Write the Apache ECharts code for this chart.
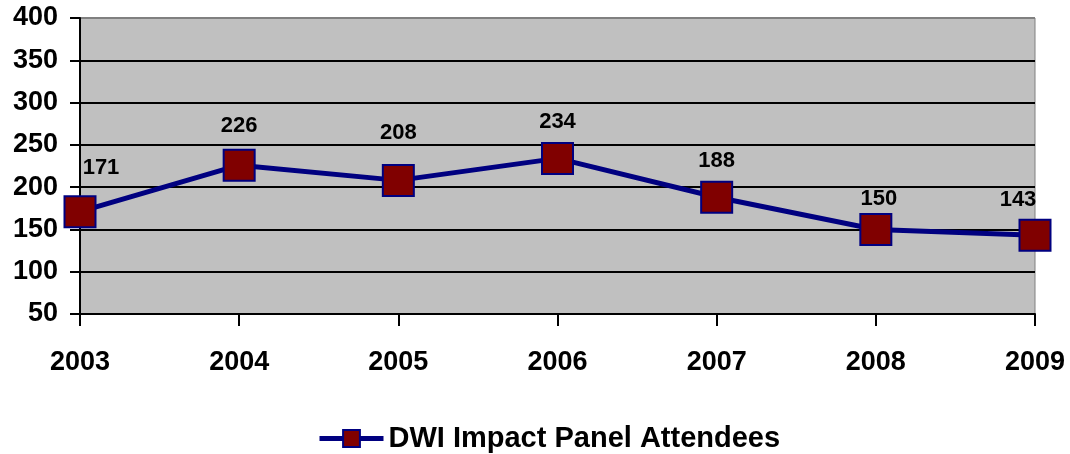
<!DOCTYPE html>
<html>
<head>
<meta charset="utf-8">
<script src="https://cdn.jsdelivr.net/npm/echarts@6/dist/echarts.min.js"></script>
<style>
  html, body { margin: 0; padding: 0; background: #fff; }
  #chart { width: 1070px; height: 454px; }
</style>
</head>
<body>
<div id="chart"></div>
<script>
    var years = ['2003', '2004', '2005', '2006', '2007', '2008', '2009']
    var attendees = [171, 226, 208, 234, 188, 150, 143]
    var seriesName = 'DWI Impact Panel Attendees'

    // small nudges so the value labels sit like the original
    var labelOffsets = [[21, -4], [0, 0], [0, -8], [0, 3], [0, 3], [3, 9], [-17, 4]]

    var points = attendees.map(function (v, i) {
        return { value: v, label: { offset: labelOffsets[i] } }
    })

    var dom = echarts.init(document.getElementById('chart'))
    var option = {
        animation: false,
        textStyle: { fontFamily: 'Liberation Sans, Arial, sans-serif' },
        grid: {
            left: 80,
            right: 35,
            top: 18,
            bottom: 140,
            show: true,
            backgroundColor: '#C0C0C0',
            borderColor: '#808080',
            borderWidth: 1
        },
        legend: {
            top: 419,
            left: 312,
            itemWidth: 64,
            itemHeight: 21,
            itemGap: 8,
            data: [{ name: seriesName, lineStyle: { width: 5, color: '#000080' } }],
            textStyle: { fontSize: 29, fontWeight: 'bold', color: '#000', fontFamily: 'Liberation Sans, Arial, sans-serif' }
        },
        xAxis: {
            type: 'category',
            boundaryGap: false,
            data: years,
            axisLine: { lineStyle: { color: '#000', width: 2 } },
            axisTick: { show: true, length: 12, lineStyle: { color: '#000', width: 2 } },
            axisLabel: { fontSize: 27, fontWeight: 'bold', color: '#000', margin: 35 }
        },
        yAxis: {
            type: 'value',
            min: 50,
            max: 400,
            interval: 50,
            axisLine: { show: true, lineStyle: { color: '#000', width: 2 } },
            axisTick: { show: true, length: 10, lineStyle: { color: '#000', width: 2 } },
            axisLabel: { fontSize: 27, fontWeight: 'bold', color: '#000', margin: 22 },
            splitLine: {
                show: true,
                lineStyle: {
                    color: ['#000', '#000', '#000', '#000', '#000', '#000', '#000', '#808080'],
                    width: 2
                }
            }
        },
        series: [
            {
                name: seriesName,
                type: 'line',
                data: points,
                symbol: 'rect',
                symbolSize: 31,
                lineStyle: { color: '#000080', width: 5 },
                itemStyle: { color: '#800000', borderColor: '#000080', borderWidth: 2 },
                label: {
                    show: true,
                    position: 'top',
                    distance: 12,
                    fontSize: 22,
                    fontWeight: 'bold',
                    color: '#000'
                }
            }
        ]
    }
    dom.setOption(option)
    window.addEventListener('resize', function () { dom.resize() })
</script>
</body>
</html>
